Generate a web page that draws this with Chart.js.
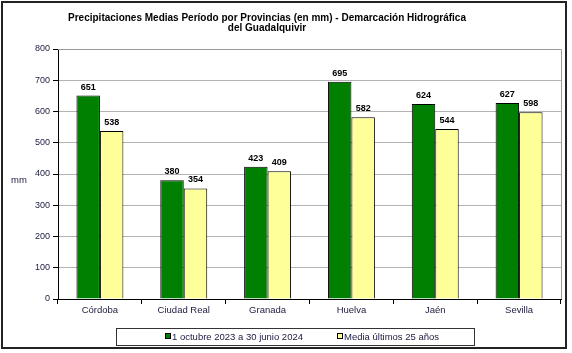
<!DOCTYPE html>
<html>
<head>
<meta charset="utf-8">
<script src="https://cdn.jsdelivr.net/npm/chart.js@4.4.1/dist/chart.umd.min.js"></script>
<style>
  body { margin: 0; background: #fff; }
  canvas { display: block; }
</style>
</head>
<body>
<canvas id="lluvia" width="572" height="353"></canvas>
<script>
// Datos del gráfico
const provincias = ["Córdoba", "Ciudad Real", "Granada", "Huelva", "Jaén", "Sevilla"];
const periodoActual = [651, 380, 423, 695, 624, 627];
const mediaHistorica = [538, 354, 409, 582, 544, 598];
const nombreSeries = ["1 octubre 2023 a 30 junio 2024", "Media últimos 25 años"];
const tituloLineas = [
  "Precipitaciones Medias Período por Provincias (en mm) - Demarcación Hidrográfica",
  "del Guadalquivir"
];
const tituloEje = "mm";

const colorTexto = "#1b1b3f";
const fuente = "Arial, 'Liberation Sans', sans-serif";

// Etiquetas de valor, título, leyenda y marcos
const decoracion = {
  id: "decoracion",
  afterDatasetsDraw(chart) {
    const ctx = chart.ctx;
    ctx.save();
    ctx.font = "bold 9px " + fuente;
    ctx.fillStyle = "#000";
    ctx.textAlign = "center";
    ctx.textBaseline = "alphabetic";
    chart.data.datasets.forEach((ds, i) => {
      const meta = chart.getDatasetMeta(i);
      meta.data.forEach((bar, j) => {
        ctx.fillText(String(ds.data[j]), bar.x, bar.y - 6);
      });
    });
    ctx.restore();
  },
  afterDraw(chart) {
    const ctx = chart.ctx;
    const area = chart.chartArea;
    ctx.save();

    // borde gris del área de trazado (arriba y derecha)
    ctx.strokeStyle = "#9a9a9a";
    ctx.lineWidth = 1;
    ctx.beginPath();
    ctx.moveTo(area.left, area.top + 0.5);
    ctx.lineTo(area.right + 0.5, area.top + 0.5);
    ctx.lineTo(area.right + 0.5, area.bottom);
    ctx.stroke();

    // marco exterior
    ctx.strokeStyle = "#222";
    ctx.lineWidth = 2;
    ctx.strokeRect(2, 2, 564, 346);

    // título
    ctx.fillStyle = "#000";
    ctx.font = "bold 10px " + fuente;
    ctx.textAlign = "center";
    ctx.textBaseline = "middle";
    ctx.fillText(tituloLineas[0], 267, 18);
    ctx.fillText(tituloLineas[1], 267, 28.5);

    // título del eje Y
    ctx.fillStyle = colorTexto;
    ctx.font = "9.5px " + fuente;
    ctx.fillText(tituloEje, 19, 180);

    // leyenda con recuadro
    ctx.strokeStyle = "#333";
    ctx.lineWidth = 1;
    ctx.strokeRect(116.5, 328.5, 358, 17);
    ctx.textAlign = "left";
    ctx.font = "9.5px " + fuente;
    const posX = [165, 337];
    chart.data.datasets.forEach((ds, i) => {
      ctx.fillStyle = ds.backgroundColor;
      ctx.fillRect(posX[i], 333.5, 5, 5);
      ctx.strokeStyle = "#000";
      ctx.strokeRect(posX[i] + 0.5, 333.5, 5, 5);
      ctx.fillStyle = colorTexto;
      ctx.fillText(ds.label, posX[i] + 7, 337);
    });
    ctx.restore();
  }
};

const ctx = document.getElementById("lluvia");
const grafico = new Chart(ctx, {
  type: "bar",
  data: {
    labels: provincias,
    datasets: [
      {
        label: nombreSeries[0],
        data: periodoActual,
        backgroundColor: "#008000",
        borderColor: "#000",
        borderWidth: 1,
        borderSkipped: "bottom",
        barPercentage: 1,
        categoryPercentage: 0.56,
      },
      {
        label: nombreSeries[1],
        data: mediaHistorica,
        backgroundColor: "#ffff99",
        borderColor: "#000",
        borderWidth: 1,
        borderSkipped: "bottom",
        barPercentage: 1,
        categoryPercentage: 0.56,
      },
    ],
  },
  options: {
    responsive: false,
    animation: false,
    devicePixelRatio: 1,
    layout: { padding: { left: 0, top: 49, right: 11, bottom: 33 } },
    plugins: {
      legend: { display: false },
      title: { display: false },
      tooltip: { enabled: false },
    },
    scales: {
      x: {
        afterFit: (s) => { s.height = 21; },
        grid: {
          offset: true,
          drawOnChartArea: false,
          drawTicks: true,
          tickLength: 5,
          tickColor: "#000",
        },
        border: { display: true, color: "#000", width: 1 },
        ticks: {
          color: colorTexto,
          font: { family: fuente, size: 9.5 },
          padding: 1,
          maxRotation: 0,
        },
      },
      y: {
        min: 0,
        max: 800,
        afterFit: (s) => { s.width = 58; },
        grid: {
          color: "#b3b3b3",
          tickLength: 5,
          tickColor: "#000",
        },
        border: { display: true, color: "#000", width: 1 },
        ticks: {
          stepSize: 100,
          color: colorTexto,
          font: { family: fuente, size: 9 },
          padding: 3,
        },
      },
    },
  },
  plugins: [decoracion],
});
</script>
</body>
</html>
